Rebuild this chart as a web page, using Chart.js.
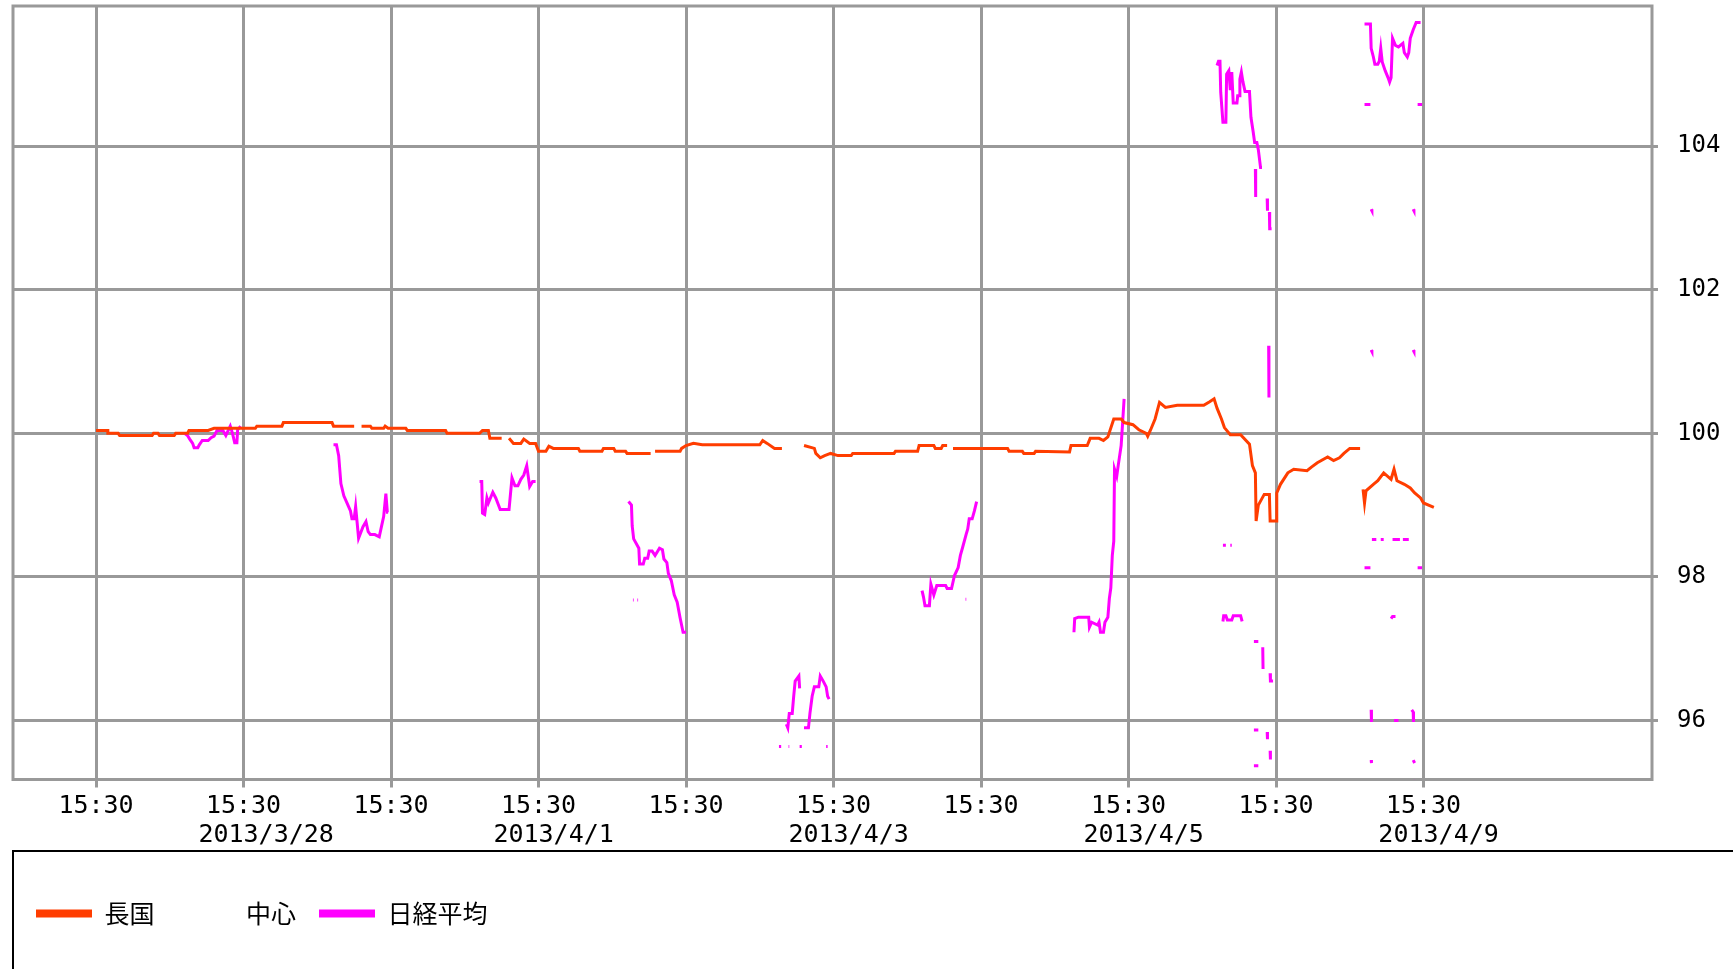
<!DOCTYPE html>
<html>
<head>
<meta charset="utf-8">
<script src="https://cdn.jsdelivr.net/npm/chart.js@4/dist/chart.umd.min.js"></script>
<style>
  html, body { margin: 0; padding: 0; background: #fff; }
  #wrap { width: 1733px; height: 969px; position: relative; }
</style>
</head>
<body>
<div id="wrap"><canvas id="chart"></canvas></div>
<script>
"use strict";

// x = trading days, 0 = first 15:30 grid line; null value = break in the line
const tickTimes = ["15:30", "15:30", "15:30", "15:30", "15:30", "15:30", "15:30", "15:30", "15:30", "15:30"];
const tickDates = ["", "2013/3/28", "", "2013/4/1", "", "2013/4/3", "", "2013/4/5", "", "2013/4/9"];
const yTicks = [96, 98, 100, 102, 104];

const seriesNames = ["長国", "中心", "日経平均"];

const jgbX = [
  0, 0.08, 0.08, 0.15, 0.16, 0.38, 0.39, 0.42, 0.43, 0.53, 0.54, 0.62, 0.63, 0.76, 0.8, 1.08, 1.09, 1.26, 1.27, 1.6,
  1.61, 1.75, 1.77, 1.8, 1.86, 1.87, 1.95, 1.96, 1.98, 2.1, 2.11, 2.37, 2.38, 2.6, 2.62, 2.66, 2.67, 2.75, 2.77, 2.8,
  2.83, 2.88, 2.9, 2.94, 2.98, 3.0, 3.05, 3.07, 3.1, 3.27, 3.28, 3.43, 3.44, 3.51, 3.52, 3.59, 3.6, 3.76, 3.775, 3.79,
  3.96, 3.97, 4.0, 4.05, 4.11, 4.5, 4.52, 4.55, 4.6, 4.65, 4.7, 4.8, 4.87, 4.88, 4.91, 4.94, 4.98, 5.03, 5.12, 5.13,
  5.41, 5.42, 5.57, 5.58, 5.68, 5.69, 5.73, 5.74, 5.77, 5.79, 5.81, 6.18, 6.19, 6.28, 6.29, 6.36, 6.37, 6.6, 6.61, 6.72,
  6.74, 6.8, 6.83, 6.86, 6.9, 6.95, 6.97, 7.03, 7.07, 7.12, 7.13, 7.15, 7.18, 7.21, 7.25, 7.33, 7.51, 7.55, 7.58, 7.6,
  7.63, 7.65, 7.69, 7.76, 7.82, 7.84, 7.86, 7.865, 7.88, 7.92, 7.955, 7.96, 8.0, 8.005, 8.03, 8.08, 8.12, 8.21, 8.24, 8.28,
  8.35, 8.39, 8.43, 8.46, 8.5, 8.57, 8.58, 8.59, 8.6, 8.61, 8.66, 8.69, 8.73, 8.78, 8.8, 8.82, 8.87, 8.91, 8.94, 8.98,
  9.0, 9.07
];
const jgbValues = [
  100.04, 100.04, 100.0, 100.0, 99.97, 99.97, 100.0, 100.0, 99.97, 99.97, 100.0, 100.0, 100.04, 100.04, 100.07, 100.07, 100.1, 100.1, 100.15, 100.15,
  100.1, 100.1, null, 100.1, 100.1, 100.07, 100.07, 100.1, 100.07, 100.07, 100.04, 100.04, 100.0, 100.0, 100.04, 100.04, 99.93, 99.93, null, 99.93,
  99.86, 99.86, 99.92, 99.86, 99.86, 99.75, 99.75, 99.82, 99.79, 99.79, 99.75, 99.75, 99.79, 99.79, 99.75, 99.75, 99.72, 99.72, null, 99.75,
  99.75, 99.79, 99.83, 99.86, 99.84, 99.84, 99.9, 99.86, 99.79, 99.79, null, 99.83, 99.79, 99.72, 99.66, 99.69, 99.72, 99.69, 99.69, 99.72,
  99.72, 99.75, 99.75, 99.83, 99.83, 99.79, 99.79, 99.83, 99.83, null, 99.79, 99.79, 99.75, 99.75, 99.72, 99.72, 99.75, 99.74, 99.83, 99.83,
  99.93, 99.93, 99.9, 99.95, 100.2, 100.2, 100.15, 100.12, 100.05, 100.0, 99.96, 100.05, 100.2, 100.43, 100.36, 100.39, 100.39, 100.44, 100.48, 100.35,
  100.2, 100.08, 99.98, 99.98, 99.85, 99.55, 99.45, 98.78, 99.0, 99.15, 99.15, 98.78, 98.78, 99.17, 99.29, 99.45, 99.5, 99.48, 99.53, 99.59,
  99.67, 99.62, 99.66, 99.72, 99.79, 99.79, null, 99.22, 99.03, 99.2, 99.29, 99.34, 99.45, 99.36, 99.5, 99.34, 99.29, 99.24, 99.17, 99.1,
  99.03, 98.97
];

const nikkeiX = [
  // 3/27
  0.6, 0.62, 0.635, 0.655, 0.665, 0.69, 0.7, 0.72, 0.76, 0.78, 0.8, 0.82, 0.86, 0.88, 0.91, 0.925, 0.94, 0.955, 0.96, 0.98, 0.99,
  // 3/28
  1.61, 1.63, 1.645, 1.66, 1.68, 1.71, 1.725, 1.735, 1.75, 1.76, 1.78, 1.81, 1.83, 1.845, 1.86, 1.89, 1.92, 1.935, 1.95, 1.965, 1.975, 1.98, 1.99,
  // 3/29
  2.6, 2.615, 2.62, 2.635, 2.65, 2.66, 2.69, 2.71, 2.74, 2.8, 2.82, 2.84, 2.86, 2.88, 2.9, 2.92, 2.94, 2.96, 2.98, 2.99,
  // 4/1
  3.61, 3.63, 3.635, 3.645, 3.68, 3.685, 3.71, 3.72, 3.74, 3.75, 3.77, 3.79, 3.82, 3.84, 3.85, 3.87, 3.88, 3.9, 3.92, 3.94, 3.96, 3.98, 4.0, 4.0,
  3.64, 3.645, 3.65, 3.67, 3.675, 3.68,
  // 4/2
  4.68, 4.69, 4.7, 4.72, 4.73, 4.74, 4.765, 4.77, 4.78, 4.8, 4.83, 4.84, 4.855, 4.87, 4.9, 4.91, 4.93, 4.95, 4.96, 4.97, 4.98,
  4.63, 4.645, 4.65, 4.695, 4.7, 4.71, 4.77, 4.785, 4.79, 4.95, 4.96, 4.97,
  // 4/3
  5.6, 5.61, 5.62, 5.65, 5.66, 5.68, 5.7, 5.76, 5.77, 5.8, 5.82, 5.845, 5.86, 5.875, 5.9, 5.91, 5.92, 5.94, 5.955, 5.97, 5.98,
  5.895, 5.9, 5.91,
  // 4/4
  6.63, 6.635, 6.66, 6.73, 6.735, 6.75, 6.79, 6.8, 6.81, 6.83, 6.84, 6.86, 6.87, 6.88, 6.89, 6.9, 6.905, 6.92, 6.93, 6.95, 6.96, 6.97, 6.98,
  // 4/5
  7.6, 7.61, 7.62, 7.625, 7.64, 7.66, 7.665, 7.68, 7.69, 7.7, 7.71, 7.735, 7.74, 7.75, 7.755, 7.765, 7.775, 7.79, 7.82, 7.83,
  7.845, 7.855, 7.87, 7.88, 7.895, 7.905, 7.91,
  7.86, 7.862, 7.87, 7.94, 7.942, 7.95, 7.955, 7.957, 7.97, 7.98, 7.95, 7.952, 7.96,
  7.64, 7.645, 7.66, 7.67, 7.7, 7.71, 7.76, 7.77, 7.78, 7.64, 7.66, 7.67, 7.69, 7.7, 7.71,
  7.85, 7.88, 7.89, 7.91, 7.912, 7.92, 7.96, 7.962, 7.98, 7.99, 7.85, 7.88, 7.89, 7.94, 7.942, 7.95,
  7.96, 7.962, 7.97, 7.85, 7.88, 7.89,
  // 4/9
  8.6, 8.64, 8.645, 8.66, 8.67, 8.69, 8.7, 8.71, 8.72, 8.74, 8.76, 8.77, 8.78, 8.79, 8.81, 8.83, 8.86, 8.87, 8.89, 8.9,
  8.91, 8.93, 8.95, 8.98, 8.99,
  8.6, 8.64, 8.65, 8.96, 8.99, 9.0, 8.645, 8.65, 8.66, 8.93, 8.935, 8.94, 8.645, 8.65, 8.66, 8.93, 8.935, 8.94,
  8.65, 8.68, 8.69, 8.71, 8.73, 8.74, 8.79, 8.84, 8.85, 8.86, 8.9, 8.91,
  8.6, 8.64, 8.65, 8.96, 8.99, 9.0, 8.78, 8.79, 8.81, 8.82,
  8.645, 8.647, 8.65, 8.8, 8.83, 8.84, 8.92, 8.93, 8.932, 8.94,
  8.645, 8.647, 8.65, 8.93, 8.94, 8.95, 8.645, 8.647, 8.65, 8.93, 8.935, 8.94
];
const nikkeiValues = [
  // 3/27
  100.0, 99.97, 99.92, 99.86, 99.8, 99.8, 99.84, 99.9, 99.9, 99.94, 99.96, 100.04, 100.04, 99.97, 100.1, 100.0, 99.87, 99.87, 100.05, 100.1, null,
  // 3/28
  99.84, 99.84, 99.69, 99.3, 99.13, 98.99, 98.92, 98.81, 98.81, 98.98, 98.54, 98.7, 98.77, 98.63, 98.59, 98.59, 98.56, 98.7, 98.84, 99.16, 98.9, 98.9, null,
  // 3/29
  99.33, 99.33, 98.89, 98.87, 99.1, 99.03, 99.18, 99.1, 98.94, 98.94, 99.38, 99.27, 99.27, 99.36, 99.42, 99.55, 99.26, 99.33, 99.33, null,
  // 4/1
  99.05, 99.0, 98.71, 98.53, 98.4, 98.18, 98.18, 98.26, 98.26, 98.36, 98.36, 98.3, 98.4, 98.38, 98.25, 98.2, 98.05, 97.95, 97.75, 97.65, 97.43, 97.23, 97.23, null,
  97.68, 97.68, null, 97.68, 97.68, null,
  // 4/2
  95.95, 95.9, 96.1, 96.1, 96.34, 96.55, 96.62, 96.45, null, 95.9, 95.9, 96.1, 96.34, 96.47, 96.47, 96.62, 96.55, 96.47, 96.34, 96.3, null,
  95.64, 95.64, null, 95.64, 95.64, null, 95.64, 95.64, null, 95.64, 95.64, null,
  // 4/3
  97.81, 97.72, 97.6, 97.6, 97.9, 97.75, 97.88, 97.88, 97.84, 97.84, 98.02, 98.13, 98.3, 98.41, 98.6, 98.67, 98.81, 98.81, 98.92, 99.05, null,
  97.69, 97.69, null,
  // 4/4
  97.23, 97.42, 97.44, 97.44, 97.3, 97.37, 97.33, 97.37, 97.23, 97.23, 97.37, 97.44, 97.7, 97.85, 98.3, 98.5, 99.5, 99.4, 99.55, 99.83, 100.15, 100.48, null,
  // 4/5
  105.12, 105.18, 105.18, 104.75, 104.33, 104.33, 105.0, 105.05, 104.78, 105.03, 104.6, 104.6, 104.7, 104.7, 104.93, 105.03, 104.9, 104.76, 104.76, 104.4,
  104.2, 104.05, 104.05, 103.95, 103.7, 103.7, null,
  103.68, 103.29, null, 103.27, 103.1, null, 103.08, 102.85, 102.85, null, 101.22, 100.5, null,
  97.38, 97.46, 97.46, 97.4, 97.4, 97.46, 97.46, 97.38, null, 98.44, 98.44, null, 98.44, 98.44, null,
  97.1, 97.1, null, 97.02, 96.72, null, 96.66, 96.55, 96.55, null, 95.87, 95.87, null, 95.84, 95.74, null,
  95.58, 95.46, null, 95.37, 95.37, null,
  // 4/9
  105.7, 105.7, 105.36, 105.24, 105.14, 105.14, 105.18, 105.36, 105.17, 105.05, 104.95, 104.89, 104.95, 105.5, 105.4, 105.38, 105.43, 105.3, 105.24, 105.3,
  105.5, 105.62, 105.72, 105.72, null,
  104.58, 104.58, null, 104.58, 104.58, null, 103.12, 103.1, null, 103.12, 103.1, null, 101.16, 101.14, null, 101.16, 101.14, null,
  98.52, 98.52, null, 98.52, 98.52, null, 98.52, 98.52, null, 98.52, 98.52, null,
  98.13, 98.13, null, 98.13, 98.13, null, 97.42, 97.45, 97.45, null,
  96.15, 95.98, null, 96.0, 96.0, null, 96.15, 96.12, 95.98, null,
  95.45, 95.41, null, 95.45, 95.41, null, 95.17, 95.13, null, 95.17, 95.15, null
];

const toPoints = (xs, ys) => xs.map((x, i) => ({x: x, y: ys[i]}));

const GRID = "#999999";

const framePlugin = {
    id: "frames",
    beforeDatasetsDraw(chart) {
        const a = chart.chartArea;
        const ctx = chart.ctx;
        ctx.save();
        ctx.strokeStyle = GRID;
        ctx.lineWidth = 3;
        ctx.strokeRect(a.left, a.top, a.right - a.left, a.bottom - a.top);
        ctx.restore();
    },
    afterDraw(chart) {
        // box round the legend
        const ctx = chart.ctx;
        ctx.save();
        ctx.strokeStyle = "#000";
        ctx.lineWidth = 2;
        ctx.strokeRect(13, 851, chart.width + 50, 200);
        ctx.restore();
    },
};

// keep the label overhang from moving the plot area
function noPadding(scale) {
    scale.paddingTop = 0;
    scale.paddingBottom = 0;
    scale.paddingLeft = 0;
    scale.paddingRight = 0;
}

new Chart(document.getElementById("chart"), {
    type: "line",
    data: {
        datasets: [
            {
                label: seriesNames[0],
                data: toPoints(jgbX, jgbValues),
                borderColor: "#ff3d00",
                backgroundColor: "#ff3d00",
                borderWidth: 3,
            },
            {
                label: seriesNames[1],
                data: [],
                borderColor: "rgba(0,0,0,0)",
                backgroundColor: "rgba(0,0,0,0)",
                borderWidth: 0,
            },
            {
                label: seriesNames[2],
                data: toPoints(nikkeiX, nikkeiValues),
                borderColor: "#ff00ff",
                backgroundColor: "#ff00ff",
                borderWidth: 3,
            },
        ],
    },
    options: {
        responsive: true,
        maintainAspectRatio: false,
        animation: false,
        spanGaps: false,
        elements: {point: {radius: 0}, line: {tension: 0}},
        layout: {padding: {left: 13, top: 6, right: 0, bottom: 33}},
        scales: {
            x: {
                type: "linear",
                min: -0.563,
                max: 10.549,
                afterBuildTicks: (scale) => {
                    scale.ticks = tickTimes.map((t, i) => ({value: i}));
                },
                afterFit: (scale) => {
                    scale.height = 98.5;
                    noPadding(scale);
                },
                grid: {color: GRID, lineWidth: 3, tickLength: 8, drawTicks: true},
                border: {display: false},
                ticks: {
                    autoSkip: false,
                    maxRotation: 0,
                    padding: 4,
                    color: "#000",
                    font: {family: "DejaVu Sans Mono", size: 25, lineHeight: 1.16},
                    callback: (value, index) => {
                        const d = tickDates[index];
                        const shifted = d ? " ".repeat(d.length - 6) + d : "";
                        return [tickTimes[index], shifted];
                    },
                },
            },
            y: {
                position: "right",
                min: 95.18,
                max: 105.95,
                afterBuildTicks: (scale) => {
                    scale.ticks = yTicks.map((v) => ({value: v}));
                },
                afterFit: (scale) => {
                    scale.width = 81;
                    noPadding(scale);
                },
                grid: {color: GRID, lineWidth: 3, tickLength: 6},
                border: {display: false},
                ticks: {
                    padding: 19,
                    color: "#000",
                    font: {family: "DejaVu Sans Mono", size: 24},
                    callback: (value) => String(value),
                },
            },
        },
        plugins: {
            tooltip: {enabled: false},
            legend: {
                position: "bottom",
                align: "start",
                labels: {
                    color: "#000",
                    font: {family: "'Noto Sans CJK JP'", size: 25},
                    boxWidth: 56,
                    boxHeight: 8,
                    padding: 23,
                    generateLabels: (chart) => chart.data.datasets.map((ds, i) => ({
                        text: ds.label,
                        fillStyle: ds.borderColor,
                        strokeStyle: ds.borderColor,
                        lineWidth: 0,
                        hidden: false,
                        datasetIndex: i,
                    })),
                },
            },
        },
    },
    plugins: [framePlugin],
});
</script>
</body>
</html>
